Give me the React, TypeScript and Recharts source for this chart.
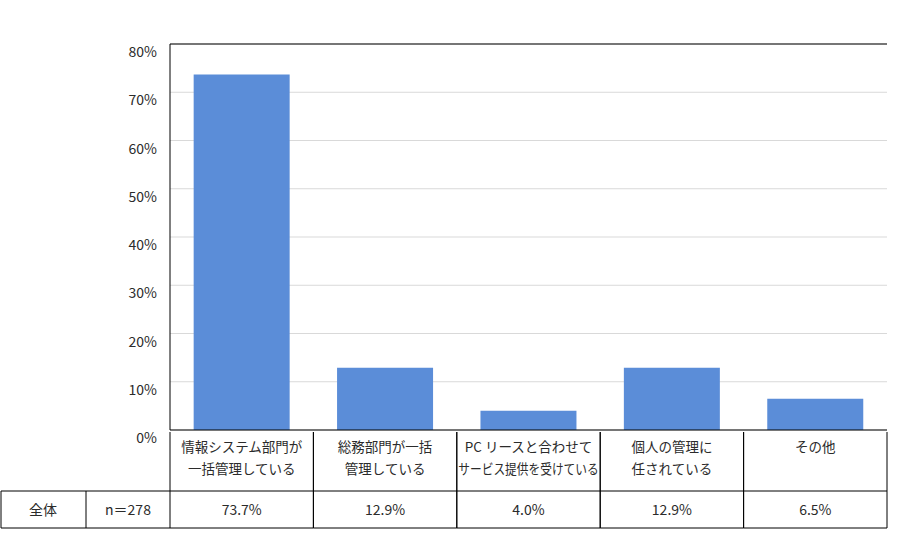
import React from "react";
import { BarChart, Bar, XAxis, YAxis, CartesianGrid, ReferenceLine } from "recharts";

// categories (two-line labels split by \n) and share of respondents (%)
const categories = [
    "情報システム部門が\n一括管理している",
    "総務部門が一括\n管理している",
    "PC リースと合わせて\nサービス提供を受けている",
    "個人の管理に\n任されている",
    "その他",
];
const values = [73.7, 12.9, 4.0, 12.9, 6.5];
const yTicks = [0, 10, 20, 30, 40, 50, 60, 70, 80];
const groupLabel = "全体";
const sampleLabel = "n＝278";

const data = categories.map((name, i) => ({ name, value: values[i] }));

const FONT = '"Noto Sans CJK JP", sans-serif';
const TEXT = "#2b2b2b";
const ROW1 = 59;
const ROW2 = 37;

// rough width estimate: ascii counts as half a full-width glyph
const textWidth = (t: string, size: number) =>
    Array.from(t).reduce((w, c) => w + (c.charCodeAt(0) < 128 ? 0.55 : 1) * size, 0);

const YTick = (props: any) => {
    const { x, y, payload } = props;
    return (
        <text x={x} y={y} dy={13} textAnchor="end" fontSize={14} fill={TEXT} fontFamily={FONT}>
            {`${payload.value}%`}
        </text>
    );
};

const TableTick = (props: any) => {
    const { x, y, payload, index } = props;
    const half = payload.offset || 71.7;
    const left = x - half;
    const right = x + half;
    const lines = String(payload.value).split("\n");
    const cellW = half * 2 - 3;
    return (
        <g>
            <line x1={left} y1={y} x2={left} y2={y + ROW1 + ROW2} stroke="#000" />
            <line x1={right} y1={y} x2={right} y2={y + ROW1 + ROW2} stroke="#000" />
            <line x1={left} y1={y + ROW1} x2={right} y2={y + ROW1} stroke="#000" />
            <line x1={left} y1={y + ROW1 + ROW2} x2={right} y2={y + ROW1 + ROW2} stroke="#000" />
            {lines.map((t, i) => {
                // squeeze only the label that would not fit the cell
                const tooLong = textWidth(t, 13.5) > cellW;
                return (
                    <text
                        key={i}
                        x={x}
                        y={y + 20 + i * 22}
                        textAnchor="middle"
                        fontSize={13.5}
                        fill={TEXT}
                        fontFamily={FONT}
                        textLength={tooLong ? cellW : undefined}
                        lengthAdjust={tooLong ? "spacingAndGlyphs" : undefined}
                    >
                        {t}
                    </text>
                );
            })}
            <text x={x} y={y + ROW1 + 24} textAnchor="middle" fontSize={14} fill={TEXT} fontFamily={FONT}>
                {`${values[index].toFixed(1)}%`}
            </text>
            {index === 0 && (
                <g>
                    <line x1={1} y1={y + ROW1} x2={left} y2={y + ROW1} stroke="#000" />
                    <line x1={1} y1={y + ROW1 + ROW2} x2={left} y2={y + ROW1 + ROW2} stroke="#000" />
                    <line x1={1} y1={y + ROW1} x2={1} y2={y + ROW1 + ROW2} stroke="#000" />
                    <line x1={86} y1={y + ROW1} x2={86} y2={y + ROW1 + ROW2} stroke="#000" />
                    <text x={43} y={y + ROW1 + 24} textAnchor="middle" fontSize={14} fill={TEXT} fontFamily={FONT}>
                        {groupLabel}
                    </text>
                    <text x={128} y={y + ROW1 + 24} textAnchor="middle" fontSize={14} fill={TEXT} fontFamily={FONT}>
                        {sampleLabel}
                    </text>
                </g>
            )}
        </g>
    );
};

export default function App() {
    return (
        <div style={{ position: "absolute", left: 0, top: 0, background: "#fff" }}>
            <BarChart
                width={909}
                height={546}
                data={data}
                margin={{ top: 44, right: 22, bottom: 0, left: 0 }}
                barCategoryGap="16.5%"
            >
                <CartesianGrid vertical={false} stroke="#d9d9d9" />
                <XAxis
                    dataKey="name"
                    height={116}
                    interval={0}
                    tickLine={false}
                    tickSize={0}
                    axisLine={{ stroke: "#000" }}
                    tick={<TableTick />}
                />
                <YAxis
                    width={170}
                    domain={[0, 80]}
                    ticks={yTicks}
                    interval={0}
                    tickLine={false}
                    tickSize={0}
                    tickMargin={13}
                    axisLine={{ stroke: "#000" }}
                    tick={<YTick />}
                />
                <ReferenceLine y={80} stroke="#000" />
                <Bar dataKey="value" fill="#5b8dd8" isAnimationActive={false} />
            </BarChart>
        </div>
    );
}
